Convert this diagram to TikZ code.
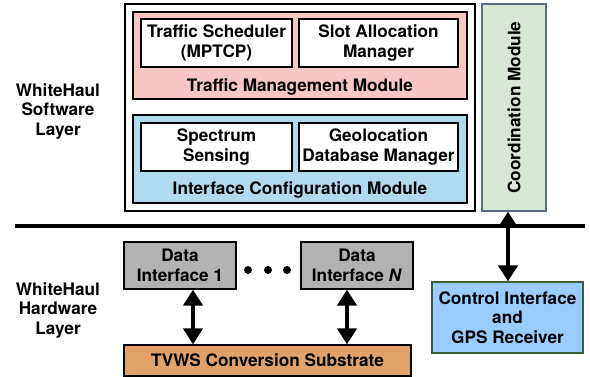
\documentclass[tikz,border=0pt]{standalone}
\usepackage{fontspec}
\setmainfont{TeX Gyre Heros}
\usetikzlibrary{arrows.meta}
\definecolor{pinkfill}{RGB}{248,198,196}
\definecolor{bluefill}{RGB}{176,218,238}
\definecolor{greenfill}{RGB}{214,232,212}
\definecolor{greenborder}{RGB}{88,108,128}
\definecolor{grayfill}{RGB}{178,178,178}
\definecolor{orangefill}{RGB}{224,162,104}
\definecolor{ctrlfill}{RGB}{153,204,255}
\definecolor{ctrlborder}{RGB}{60,92,60}
\tikzset{
  txt/.style={font=\fontsize{17.2}{19.5}\selectfont\bfseries, align=center, inner sep=0pt},
  box/.style={draw=black, line width=1.2pt, inner sep=0pt},
  dbl/.style={{Triangle[width=19pt,length=16pt]}-{Triangle[width=19pt,length=16pt]}, line width=4.5pt},
}
\begin{document}
\begin{tikzpicture}[x=1pt,y=-1pt]
\useasboundingbox (0,0) rectangle (590,377);
% outer software box
\draw[line width=2pt] (125,4) rectangle (475,211);
% traffic management
\draw[box, fill=pinkfill] (133,12) rectangle (467,99);
\node[box, fill=white, minimum width=151pt, minimum height=48pt] (ts) at (216.5,43) {};
\node[txt] at (ts) {Traffic Scheduler\\(MPTCP)};
\node[box, fill=white, minimum width=159pt, minimum height=48pt] (sa) at (378.5,43) {};
\node[txt] at (sa) {Slot Allocation\\Manager};
\node[txt] (tmm) at (300,87) {Traffic Management Module};
% interface configuration
\draw[box, fill=bluefill] (133,115) rectangle (467,203);
\node[box, fill=white, minimum width=151pt, minimum height=48pt] (ss) at (216.5,147) {};
\node[txt] at (ss) {Spectrum\\Sensing};
\node[box, fill=white, minimum width=159pt, minimum height=48pt] (geo) at (378.5,147) {};
\node[txt] at (geo) {Geolocation\\Database Manager};
\node[txt] (icm) at (300,190) {Interface Configuration Module};
% coordination
\node[draw=greenborder, line width=1.2pt, fill=greenfill, minimum width=64pt, minimum height=207pt, inner sep=0pt] (coord) at (514,107.5) {};
\node[txt, rotate=90] at (coord) {Coordination Module};
% layer labels
\node[txt] (sw) at (58,111) {WhiteHaul\\Software\\Layer};
\node[txt] (hw) at (58,310) {WhiteHaul\\Hardware\\Layer};
% separator line
\coordinate (l1) at (15,226);
\coordinate (l2) at (585,226);
\draw[line width=4pt] (l1) -- (l2);
% data interfaces
\node[box, fill=grayfill, minimum width=112pt, minimum height=47pt] (d1) at (180,265.5) {};
\node[txt] at (d1) {Data\\Interface 1};
\node[box, fill=grayfill, minimum width=112pt, minimum height=47pt] (dn) at (357,265.5) {};
\node[txt] at (dn) {Data\\Interface \textit{N}};
\node[circle, fill=black, minimum size=8pt, inner sep=0pt] (p1) at (248,270) {};
\node[circle, fill=black, minimum size=8pt, inner sep=0pt] (p2) at (268,270) {};
\node[circle, fill=black, minimum size=8pt, inner sep=0pt] (p3) at (287,270) {};
% TVWS
\node[box, fill=orangefill, minimum width=287pt, minimum height=31pt] (tv) at (267.5,360.5) {};
\node[txt] at (tv) {TVWS Conversion Substrate};
% control interface
\node[draw=ctrlborder, line width=1.2pt, fill=ctrlfill, minimum width=151pt, minimum height=71pt, inner sep=0pt] (ci) at (507.5,317.5) {};
\node[txt] at (ci) {Control Interface\\and\\GPS Receiver};
% arrows
\draw[dbl] (193,289.6) -- (193,344.4);
\draw[dbl] (347,289.6) -- (347,344.4);
\draw[dbl] (508,211.6) -- (508,281.4);
\end{tikzpicture}
\end{document}
